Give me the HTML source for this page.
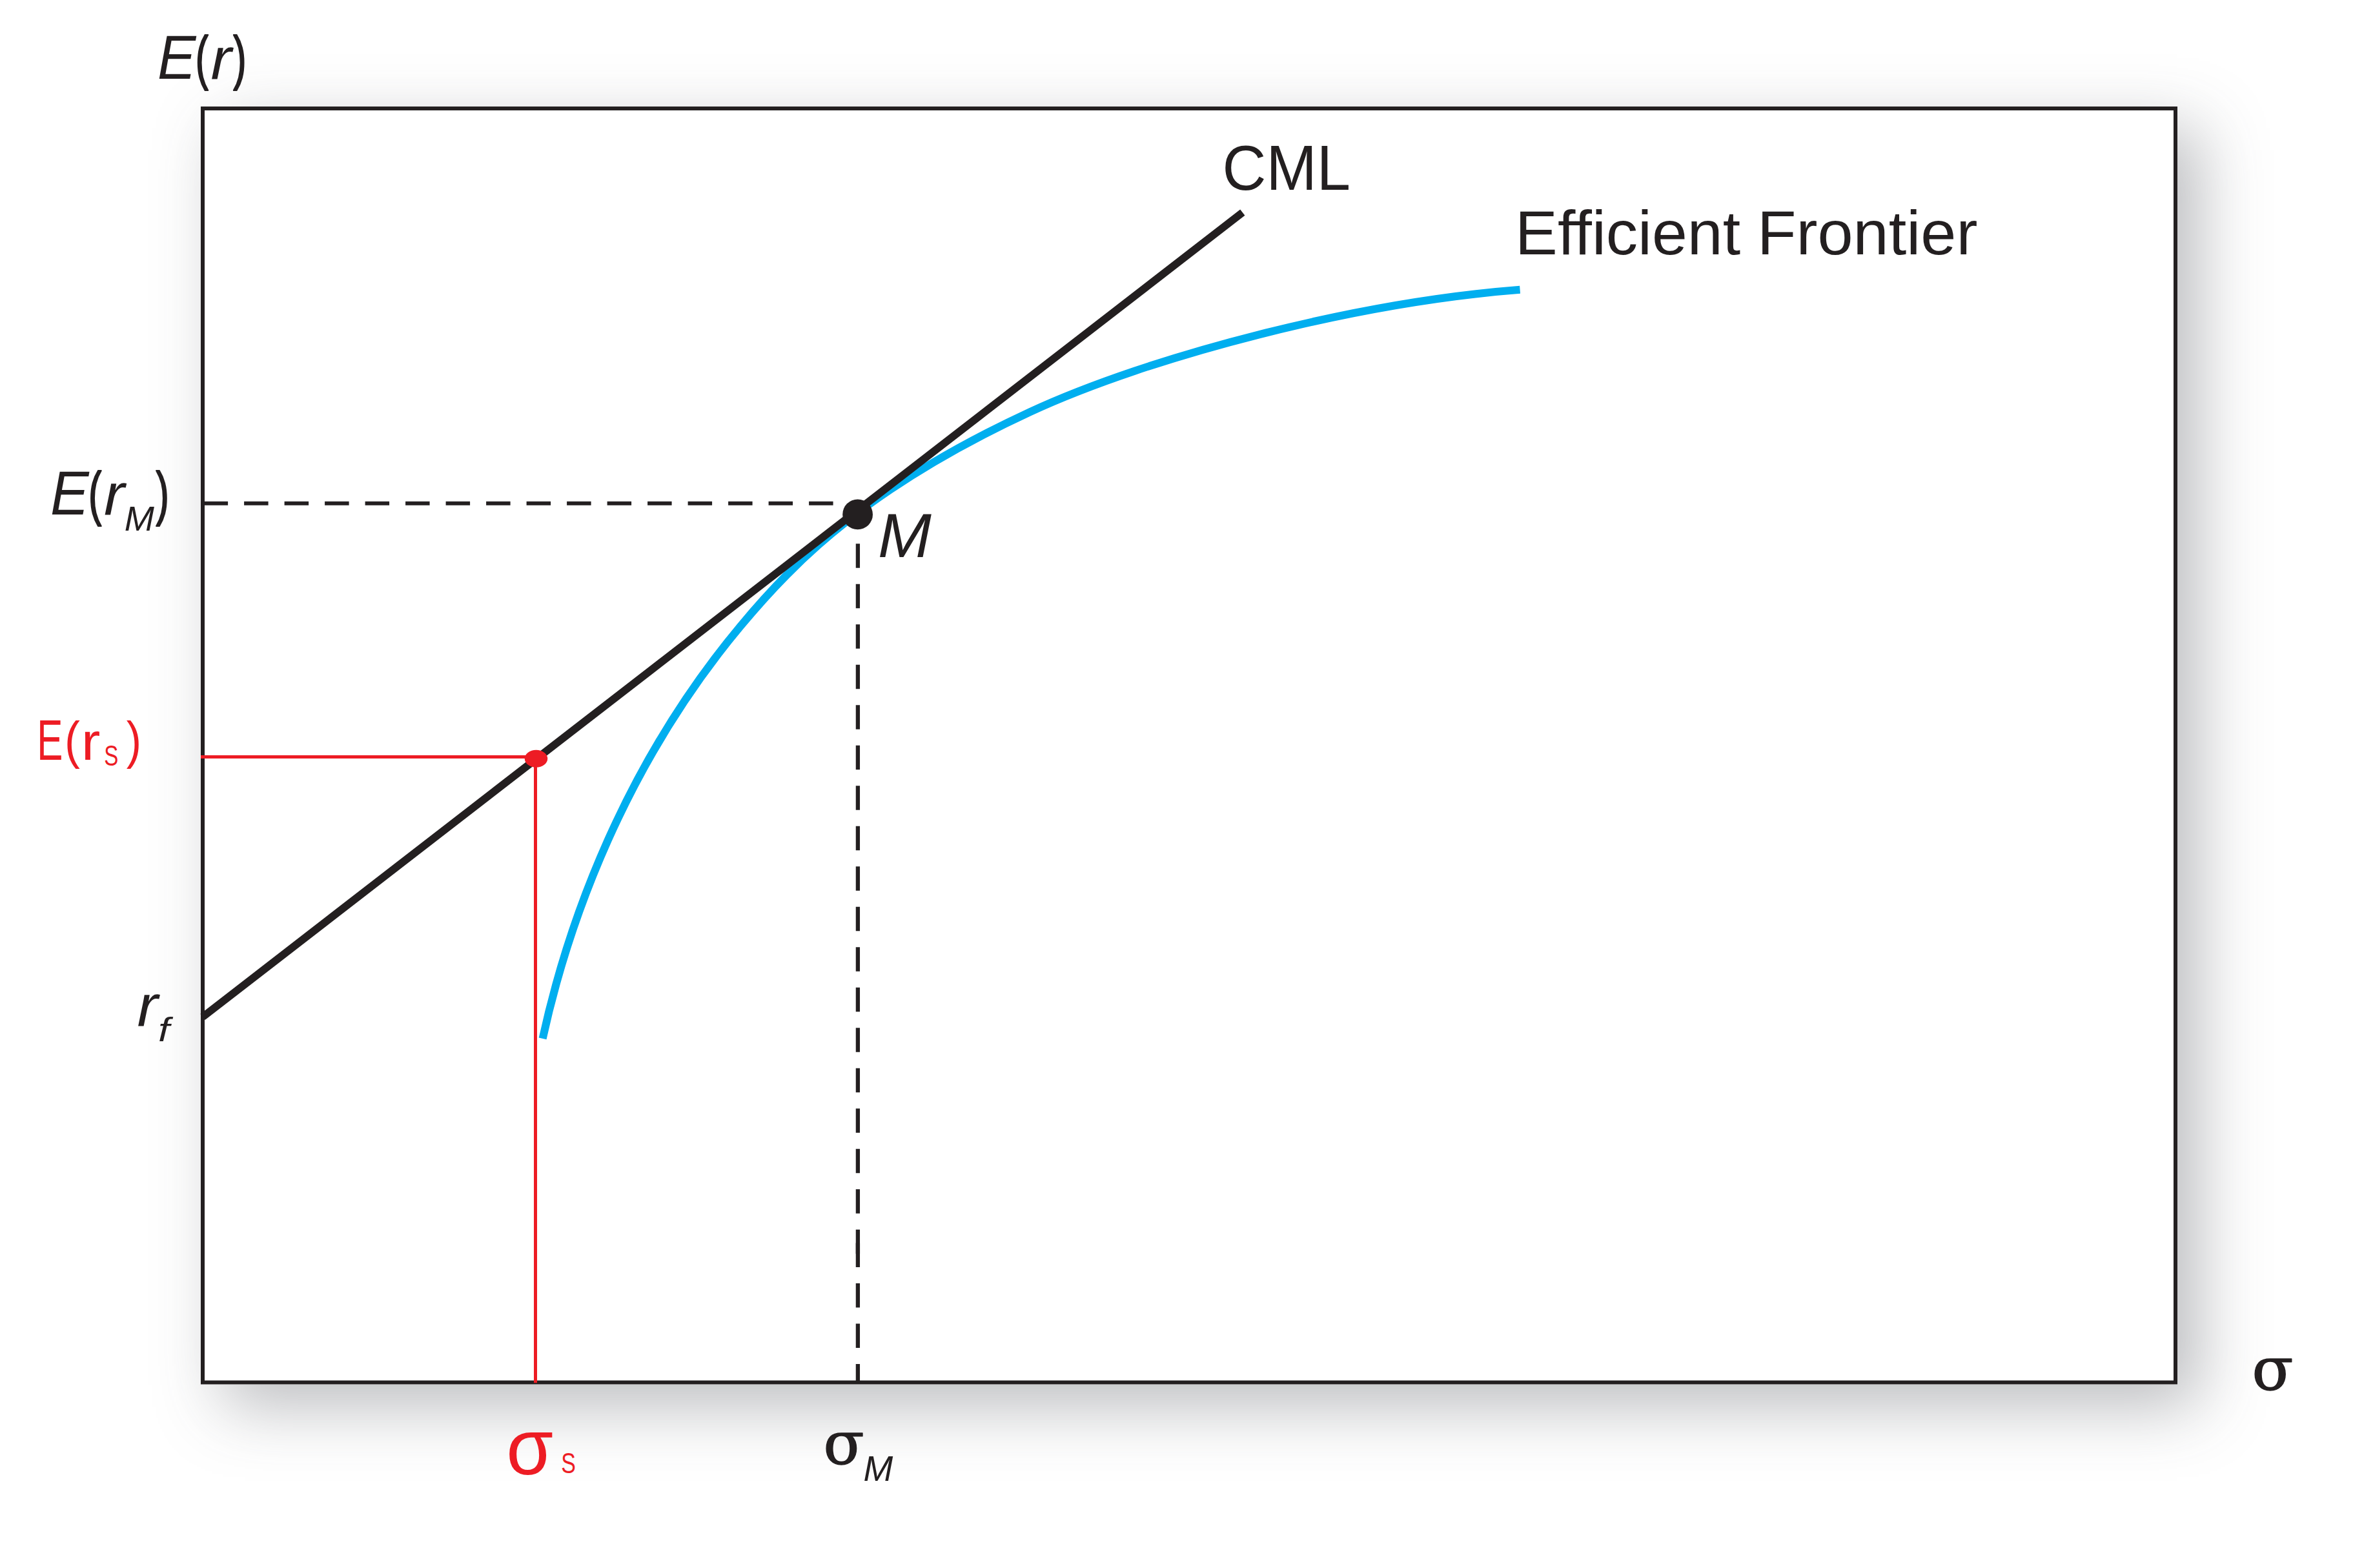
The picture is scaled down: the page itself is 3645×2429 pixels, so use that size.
<!DOCTYPE html>
<html><head><meta charset="utf-8"><title>CML and Efficient Frontier</title>
<style>
html,body{margin:0;padding:0;background:#fff;}
body{width:3645px;height:2429px;position:relative;overflow:hidden;}
#box{position:absolute;left:311px;top:165px;width:3062px;height:1980px;background:#fff;box-shadow:34px 34px 96px rgba(67,70,78,0.356);}
svg{position:absolute;left:0;top:0;}
</style></head><body>
<div id="box"></div>
<svg width="3645" height="2429" viewBox="0 0 3645 2429">
<!-- frame -->
<rect x="314" y="168" width="3056" height="1973.5" fill="none" stroke="#231f20" stroke-width="6"/>
<!-- dashed guides -->
<line x1="1290.6" y1="779.8" x2="314" y2="779.8" stroke="#231f20" stroke-width="6" stroke-dasharray="37.5 25"/>
<line x1="1328.9" y1="842.3" x2="1328.9" y2="1942.3" stroke="#231f20" stroke-width="6.3" stroke-dasharray="37.5 25"/>
<line x1="1328.9" y1="1925.4" x2="1328.9" y2="2141.5" stroke="#231f20" stroke-width="6.3" stroke-dasharray="37.5 25"/>
<!-- efficient frontier -->
<path d="M840.6,1608.9 C880.7,1426.1 968.8,1183.3 1147.4,969.6 C1233.2,866.8 1347.3,753.2 1595.4,638.2 C1783.0,551.3 2101.0,468.4 2354.6,448.8" fill="none" stroke="#00aeef" stroke-width="12.1"/>
<!-- CML -->
<line x1="314" y1="1575.4" x2="1924.8" y2="329.2" stroke="#231f20" stroke-width="11.8"/>
<circle cx="1328.6" cy="796.9" r="23.4" fill="#231f20"/>
<!-- red -->
<line x1="311" y1="1172.6" x2="830" y2="1172.6" stroke="#ed1c24" stroke-width="5"/>
<line x1="829.5" y1="1175" x2="829.5" y2="2142.3" stroke="#ed1c24" stroke-width="5"/>
<ellipse cx="830.5" cy="1175.3" rx="17.7" ry="13.5" fill="#ed1c24"/>
<!-- labels -->
<text font-family='"Liberation Sans", sans-serif' fill="#231f20"><tspan x="243.92" y="121.60" font-size="96.45" textLength="59.52" lengthAdjust="spacingAndGlyphs" font-style="italic">E</tspan><tspan x="302.68" y="121.49" font-size="92.41" textLength="20.10" lengthAdjust="spacingAndGlyphs" stroke="#231f20" stroke-width="2.2" stroke-linejoin="round">(</tspan><tspan x="326.45" y="121.60" font-size="90.19" textLength="32.18" lengthAdjust="spacingAndGlyphs" font-style="italic">r</tspan><tspan x="361.29" y="121.49" font-size="92.41" textLength="20.35" lengthAdjust="spacingAndGlyphs" stroke="#231f20" stroke-width="2.2" stroke-linejoin="round">)</tspan></text>
<text font-family='"Liberation Sans", sans-serif' fill="#231f20"><tspan x="78.11" y="796.80" font-size="96.52" textLength="59.72" lengthAdjust="spacingAndGlyphs" font-style="italic">E</tspan><tspan x="136.93" y="796.44" font-size="92.19" textLength="20.35" lengthAdjust="spacingAndGlyphs" stroke="#231f20" stroke-width="2.2" stroke-linejoin="round">(</tspan><tspan x="160.96" y="796.80" font-size="90.37" textLength="31.99" lengthAdjust="spacingAndGlyphs" font-style="italic">r</tspan><tspan x="192.74" y="821.50" font-size="54.20" textLength="46.15" lengthAdjust="spacingAndGlyphs" font-style="italic">M</tspan><tspan x="241.49" y="796.44" font-size="92.19" textLength="20.35" lengthAdjust="spacingAndGlyphs" stroke="#231f20" stroke-width="2.2" stroke-linejoin="round">)</tspan></text>
<text font-family='"Liberation Sans", sans-serif' fill="#231f20"><tspan x="212.55" y="1588.70" font-size="90.19" textLength="32.18" lengthAdjust="spacingAndGlyphs" font-style="italic">r</tspan><tspan x="245.08" y="1613.44" font-size="51.64" textLength="17.75" lengthAdjust="spacingAndGlyphs" font-style="italic">f</tspan></text>
<text font-family='"Liberation Sans", sans-serif' fill="#231f20"><tspan x="1360.02" y="862.70" font-size="96.67" textLength="82.78" lengthAdjust="spacingAndGlyphs" font-style="italic">M</tspan></text>
<text font-family='"Liberation Sans", sans-serif' fill="#231f20"><tspan x="1893.50" y="294.13" font-size="97.46" textLength="198.63" lengthAdjust="spacingAndGlyphs">CML</tspan></text>
<text font-family='"Liberation Sans", sans-serif' fill="#231f20"><tspan x="2347.11" y="393.70" font-size="96.52" textLength="348.97" lengthAdjust="spacingAndGlyphs">Efficient</tspan> <tspan x="2721.97" y="393.70" font-size="96.52" textLength="341.42" lengthAdjust="spacingAndGlyphs">Frontier</tspan></text>
<text font-family='"Liberation Sans", sans-serif' fill="#ed1c24"><tspan x="57.19" y="1177.00" font-size="88.41" textLength="40.14" lengthAdjust="spacingAndGlyphs">E</tspan><tspan x="99.99" y="1174.11" font-size="80.43" textLength="23.93" lengthAdjust="spacingAndGlyphs">(</tspan><tspan x="126.06" y="1177.00" font-size="81.85" textLength="29.38" lengthAdjust="spacingAndGlyphs">r</tspan><tspan x="161.31" y="1186.26" font-size="44.06" textLength="22.08" lengthAdjust="spacingAndGlyphs">S</tspan><tspan x="195.75" y="1174.11" font-size="80.43" textLength="23.31" lengthAdjust="spacingAndGlyphs">)</tspan></text>
<text font-family='"Liberation Sans", sans-serif' fill="#ed1c24"><tspan x="784.28" y="2283.78" font-size="122.22" textLength="72.86" lengthAdjust="spacingAndGlyphs">σ</tspan><tspan x="869.17" y="2282.26" font-size="44.34" textLength="22.65" lengthAdjust="spacingAndGlyphs">S</tspan></text>
<text font-family='"Liberation Sans", sans-serif' fill="#231f20"><tspan x="1275.53" y="2267.93" font-size="91.21" textLength="63.23" lengthAdjust="spacingAndGlyphs" font-family='"DejaVu Serif", "Liberation Serif", serif' stroke="#231f20" stroke-width="1.4" stroke-linejoin="round">σ</tspan><tspan x="1337.55" y="2294.00" font-size="54.78" textLength="45.74" lengthAdjust="spacingAndGlyphs" font-style="italic">M</tspan></text>
<text font-family='"Liberation Sans", sans-serif' fill="#231f20"><tspan x="3488.48" y="2152.74" font-size="90.84" textLength="64.01" lengthAdjust="spacingAndGlyphs" font-family='"DejaVu Serif", "Liberation Serif", serif' stroke="#231f20" stroke-width="1.4" stroke-linejoin="round">σ</tspan></text>
</svg>
</body></html>
